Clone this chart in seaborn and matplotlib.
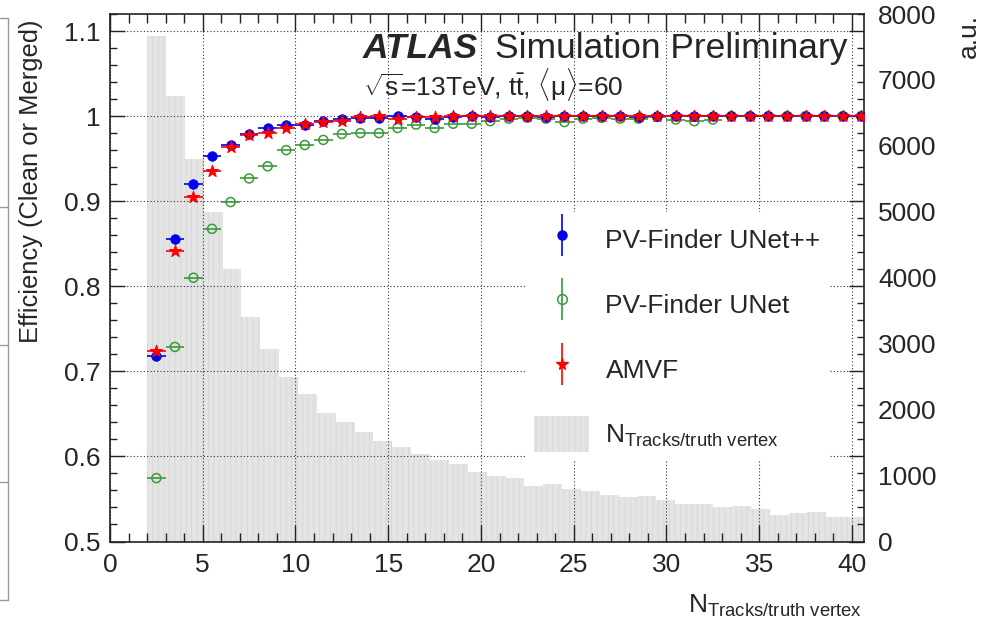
import numpy as np
import pandas as pd
import matplotlib
matplotlib.use("Agg")
import matplotlib.pyplot as plt
from matplotlib.lines import Line2D
from matplotlib.patches import Patch
import seaborn as sns

# ---- efficiency vs. number of tracks per truth vertex ----
n_tracks = [2.5, 3.5, 4.5, 5.5, 6.5, 7.5, 8.5, 9.5, 10.5, 11.5, 12.5, 13.5, 14.5,
            15.5, 16.5, 17.5, 18.5, 19.5, 20.5, 21.5, 22.5, 23.5, 24.5, 25.5, 26.5,
            27.5, 28.5, 29.5, 30.5, 31.5, 32.5, 33.5, 34.5, 35.5, 36.5, 37.5, 38.5,
            39.5, 40.5]

eff_unetpp = [0.7185, 0.856, 0.920, 0.9526, 0.966, 0.979, 0.986, 0.990, 0.989,
              0.994, 0.997, 0.998, 0.998, 1.000, 0.999, 0.997, 0.999, 1.000, 0.999,
              1.000, 1.000, 0.999, 1.000, 1.000, 1.000, 1.000, 0.999, 1.000, 1.000,
              1.000, 1.000, 1.000, 1.000, 1.000, 1.000, 1.000, 1.000, 1.000, 1.000]

eff_unet = [0.5745, 0.7287, 0.810, 0.8675, 0.899, 0.9267, 0.941, 0.960, 0.966,
            0.972, 0.979, 0.980, 0.980, 0.986, 0.990, 0.986, 0.991, 0.991, 0.994,
            0.997, 0.998, 0.997, 0.993, 0.997, 0.998, 0.997, 0.997, 0.999, 0.996,
            0.994, 0.996, 1.000, 1.000, 1.000, 1.000, 1.000, 1.000, 1.000, 1.000]

eff_amvf = [0.7244, 0.842, 0.905, 0.936, 0.9636, 0.9777, 0.9804, 0.986, 0.991,
            0.993, 0.994, 0.999, 1.000, 0.997, 0.999, 0.999, 1.000, 1.000, 1.000,
            1.000, 1.000, 1.000, 1.000, 1.000, 1.000, 1.000, 1.000, 1.000, 1.000,
            1.000, 1.000, 1.000, 1.000, 1.000, 1.000, 1.000, 1.000, 1.000, 1.000]

bin_half_width = 0.5

# ---- track multiplicity distribution (arbitrary units) ----
hist_counts = [7660, 6760, 5800, 4990, 4127, 3400, 2927, 2493, 2240, 1954,
               1812, 1660, 1524, 1438, 1322, 1231, 1170, 1059, 993, 963,
               847, 872, 801, 766, 705, 670, 685, 629, 569, 569,
               518, 538, 488, 402, 427, 442, 367, 367]
hist_range = (2.0, 40.65)

series_labels = ["PV-Finder UNet++", "PV-Finder UNet", "AMVF"]
hist_label = r"N$_{\mathrm{Tracks/truth\ vertex}}$"

BLUE = "#0000ee"
GREEN = "#3a9a3a"
RED = "#ff0000"
HIST_FACE = "#e4e4e4"
HIST_HATCH = "#d3d3d3"

sns.set_style("ticks")
plt.rcParams["font.family"] = ["Liberation Sans", "DejaVu Sans"]
plt.rcParams["mathtext.fontset"] = "custom"
plt.rcParams["mathtext.rm"] = "Liberation Sans"
plt.rcParams["mathtext.it"] = "Liberation Sans:italic"
plt.rcParams["mathtext.bf"] = "Liberation Sans:bold"
plt.rcParams["hatch.linewidth"] = 0.5

W, H = 982, 619
fig = plt.figure(figsize=(W / 100, H / 100), dpi=100)
left, right, bottom, top = 110 / W, 864 / W, 1 - 541.5 / H, 1 - 14 / H
ax = fig.add_axes([left, bottom, right - left, top - bottom])
ax2 = ax.twinx()
ax.set_zorder(ax2.get_zorder() + 1)
ax.patch.set_visible(False)

# histogram on the right-hand axis, behind everything else
edges = np.linspace(hist_range[0], hist_range[1], len(hist_counts) + 1)
centres = 0.5 * (edges[:-1] + edges[1:])
hist_df = pd.DataFrame({"n": centres, "w": hist_counts})
sns.histplot(data=hist_df, x="n", weights="w", bins=edges.tolist(), ax=ax2,
             stat="count", element="bars", fill=True, color=HIST_FACE, alpha=1,
             linewidth=0)
for p in ax2.patches:
    p.set_facecolor(HIST_FACE)
    p.set_hatch("|||")
    p.set_edgecolor(HIST_HATCH)
    p.set_linewidth(0)

ax2.set_ylim(0, 8000)
ax2.set_yticks(np.arange(0, 8001, 1000))
ax2.tick_params(axis="y", length=0, pad=10, labelsize=19)
ax2.set_ylabel("a.u.", fontsize=19, loc="top")
ax2.yaxis.set_label_coords(1.1235, 1.0)
for s in ax2.spines.values():
    s.set_visible(False)

# efficiency points with bin-width error bars
eff_df = pd.DataFrame({"n": n_tracks, "UNet++": eff_unetpp,
                       "UNet": eff_unet, "AMVF": eff_amvf})
styles = [
    ("UNet", GREEN, "o", 42, "none", 1.1),
    ("UNet++", BLUE, "o", 48, BLUE, 0.5),
    ("AMVF", RED, "*", 80, RED, 0.8),
]
for col, color, marker, size, face, lw in styles:
    ax.errorbar(eff_df["n"], eff_df[col], xerr=bin_half_width, fmt="none",
                ecolor=color, elinewidth=1.2, capsize=0, zorder=3)
    sns.scatterplot(data=eff_df, x="n", y=col, ax=ax, marker=marker, s=size,
                    facecolor=face, edgecolor=color, linewidth=lw,
                    zorder=4, legend=False)

ax.set_xlim(0, 40.65)
ax.set_ylim(0.5, 1.12)
ax.set_xticks(np.arange(0, 41, 5))
ax.set_xticks(np.arange(0, 41, 1), minor=True)
ax.set_yticks([0.5, 0.6, 0.7, 0.8, 0.9, 1.0, 1.1])
ax.set_yticklabels(["0.5", "0.6", "0.7", "0.8", "0.9", "1", "1.1"])
ax.set_yticks(np.arange(0.5, 1.121, 0.02), minor=True)
ax.tick_params(which="both", direction="in", top=True, right=True,
               labelsize=19, width=1.0, color="#222222")
ax.tick_params(axis="x", which="major", length=12, pad=8)
ax.tick_params(axis="x", which="minor", length=6.5)
ax.tick_params(axis="y", which="major", length=11, pad=7)
ax.tick_params(axis="y", which="minor", length=5)
for s in ax.spines.values():
    s.set_visible(True)
    s.set_linewidth(1.2)
    s.set_color("#222222")

ax.grid(True, which="major", linestyle=(0, (1, 2)), color="#333333", linewidth=0.8)

ax.set_xlabel(hist_label, fontsize=19, loc="right")
ax.xaxis.set_label_coords(0.997, -0.0976)
ax.set_ylabel("Efficiency (Clean or Merged)", fontsize=18.4, loc="top")
ax.yaxis.set_label_coords(-0.089, 0.99)

# legend
def vbar(c):
    return Line2D([], [], color=c, marker="|", markersize=30, markeredgewidth=1.2,
                  linestyle="none")

h_pp = (vbar(BLUE), Line2D([], [], color=BLUE, marker="o", markersize=6.5,
                           linestyle="none"))
h_u = (vbar(GREEN), Line2D([], [], color=GREEN, marker="o", markersize=7,
                           markerfacecolor="none", markeredgewidth=1.1,
                           linestyle="none"))
h_a = (vbar(RED), Line2D([], [], color=RED, marker="*", markersize=8.5,
                         linestyle="none"))
h_h = Patch(facecolor=HIST_FACE, edgecolor=HIST_HATCH, hatch="|||", linewidth=0)
ax.legend([h_pp, h_u, h_a, h_h], series_labels + [hist_label],
          loc="upper left", bbox_to_anchor=(525 / W, 1 - 212 / H),
          bbox_transform=fig.transFigure, frameon=True, fancybox=False,
          framealpha=1, edgecolor="none", facecolor="white", fontsize=19,
          handlelength=2.08, handleheight=1.74, handletextpad=0.62,
          labelspacing=1.08, borderpad=0.35, borderaxespad=0)

# experiment label
fig.text(363 / W, 1 - 58 / H, "ATLAS", fontsize=25.5, fontweight="bold",
         fontstyle="italic", va="baseline")
fig.text(495 / W, 1 - 58 / H, "Simulation Preliminary", fontsize=25.5, va="baseline")
fig.text(363 / W, 1 - 95 / H,
         r"$\sqrt{\mathrm{s}}$=13TeV, $\mathrm{t\bar{t}}$, $\langle\mathrm{\mu}\rangle$=60",
         fontsize=19, va="baseline")

# edge of the neighbouring panel
edge_x = 8 / W
fig.add_artist(Line2D([edge_x, edge_x], [1 - 18 / H, 1 - 600 / H],
                      transform=fig.transFigure, color="#999999", lw=1))
for yy in [18, 207, 345, 482, 600]:
    fig.add_artist(Line2D([0, edge_x], [1 - yy / H, 1 - yy / H],
                          transform=fig.transFigure, color="#999999", lw=1))

fig.savefig("out.png", dpi=100)
